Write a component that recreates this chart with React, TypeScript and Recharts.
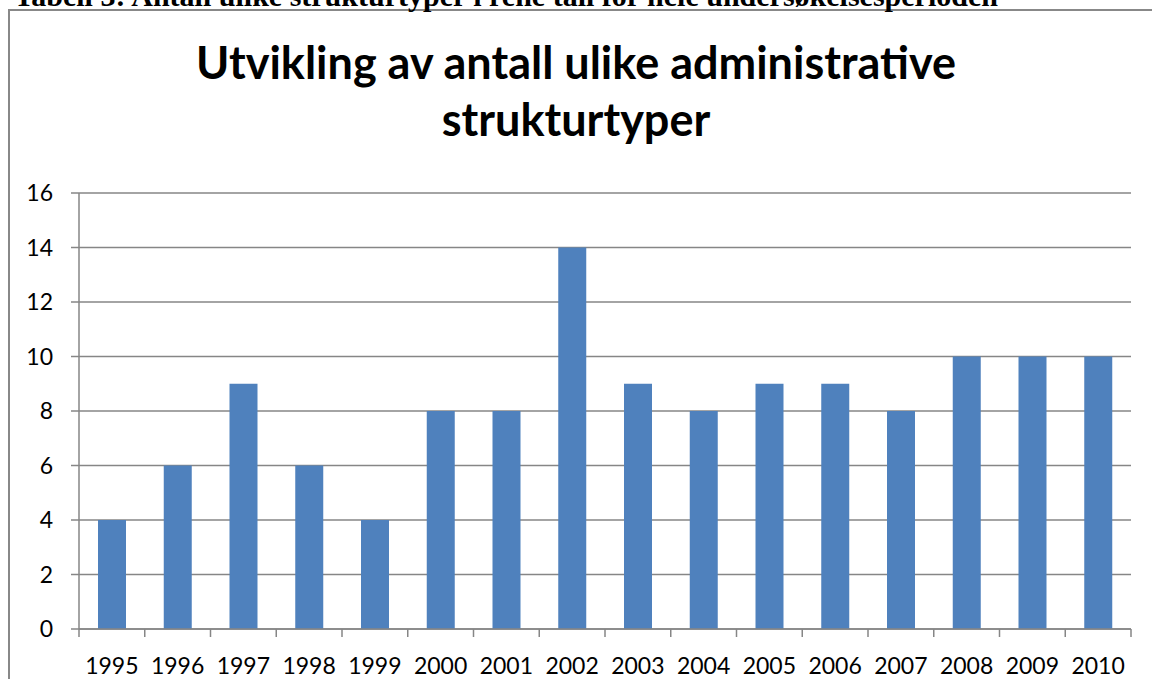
import { Bar, BarChart, CartesianGrid, XAxis, YAxis } from "recharts";

const YEARS = [
  "1995", "1996", "1997", "1998", "1999", "2000", "2001", "2002",
  "2003", "2004", "2005", "2006", "2007", "2008", "2009", "2010",
];
const STRUCTURE_TYPES = [4, 6, 9, 6, 4, 8, 8, 14, 9, 8, 9, 9, 8, 10, 10, 10];
const Y_TICKS = [0, 2, 4, 6, 8, 10, 12, 14, 16];

const GRID = "#868686";
const FONT = "Lato, 'Open Sans', sans-serif";

const CHART_W = 1152;
const Y_AXIS_W = 79;
const RIGHT = 21;
const BAND = (CHART_W - Y_AXIS_W - RIGHT) / YEARS.length;

const data = YEARS.map((year, i) => ({ year, count: STRUCTURE_TYPES[i] }));

// Excel-style category axis: tick marks sit between the categories, label in the middle
const YearTick = (props: any) => {
  const { x, y, payload, index } = props;
  const last = index === YEARS.length - 1;
  return (
    <g>
      <line x1={x - BAND / 2} y1={y} x2={x - BAND / 2} y2={y + 8} stroke={GRID} strokeWidth={1.5} />
      {last && <line x1={x + BAND / 2} y1={y} x2={x + BAND / 2} y2={y + 8} stroke={GRID} strokeWidth={1.5} />}
      <text x={x} y={y + 45} textAnchor="middle" fill="#000" fontSize={23} fontFamily={FONT}>
        {payload.value}
      </text>
    </g>
  );
};

export default function App() {
  return (
    <div
      style={{
        position: "absolute",
        left: 0,
        top: 0,
        width: 1152,
        height: 679,
        overflow: "hidden",
        background: "#fff",
      }}
    >
      <div
        style={{
          position: "absolute",
          left: 8,
          top: 9,
          width: 1200,
          height: 720,
          border: "2px solid #888",
        }}
      />
      <div
        style={{
          position: "absolute",
          left: 14,
          top: -21,
          fontFamily: "'Liberation Serif', serif",
          fontWeight: "bold",
          fontSize: 30,
          lineHeight: "34px",
          whiteSpace: "nowrap",
          color: "#000",
        }}
      >
        Tabell 3: Antall ulike strukturtyper i rene tall for hele undersøkelsesperioden
      </div>
      <div
        style={{
          position: "absolute",
          left: 0,
          top: 34,
          width: 1152,
          textAlign: "center",
          fontFamily: FONT,
          fontWeight: "bold",
          fontSize: 45,
          lineHeight: "57px",
          color: "#000",
        }}
      >
        Utvikling av antall ulike administrative
        <br />
        strukturtyper
      </div>
      <div style={{ position: "absolute", left: 0, top: 0 }}>
        <BarChart
          width={CHART_W}
          height={679}
          data={data}
          margin={{ top: 193, right: RIGHT, left: 0, bottom: 0 }}
          barSize={28}
        >
          <CartesianGrid vertical={false} stroke={GRID} strokeWidth={1.5} />
          <XAxis
            dataKey="year"
            tickLine={false}
            tickSize={0}
            tickMargin={0}
            axisLine={{ stroke: GRID, strokeWidth: 1.5 }}
            height={50}
            tick={YearTick}
            interval={0}
          />
          <YAxis
            width={Y_AXIS_W}
            domain={[0, 16]}
            ticks={Y_TICKS}
            tickSize={8}
            tickMargin={18}
            tickLine={{ stroke: GRID, strokeWidth: 1.5 }}
            axisLine={{ stroke: GRID, strokeWidth: 1.5 }}
            tick={{ fill: "#000", fontSize: 23, fontFamily: FONT }}
          />
          <Bar dataKey="count" fill="#4F81BD" isAnimationActive={false} />
        </BarChart>
      </div>
    </div>
  );
}
